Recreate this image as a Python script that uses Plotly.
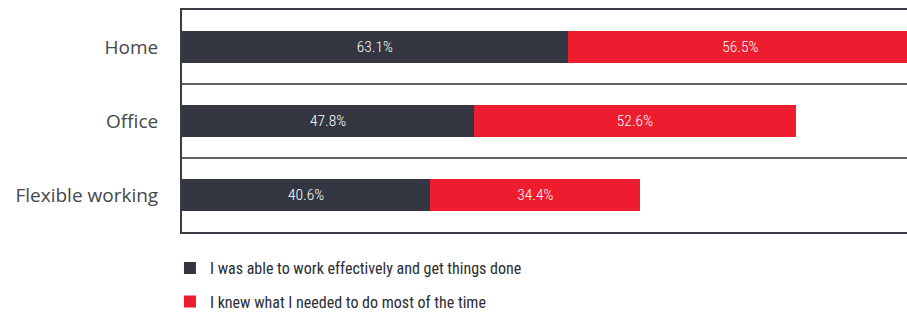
import plotly.graph_objects as go

categories = ["Home", "Office", "Flexible working"]
effective = [63.1, 47.8, 40.6]
knew_needed = [56.5, 52.6, 34.4]
series_names = ["I was able to work effectively and get things done",
                "I knew what I needed to do most of the time"]

DARK = "#343741"
RED = "#ed1c2e"
NARROW = "Roboto Condensed, DejaVu Sans Condensed, sans-serif"

fig = go.Figure()
fig.add_trace(go.Bar(
    y=categories, x=effective, orientation="h", name=series_names[0],
    marker=dict(color=DARK, line=dict(width=0)), width=0.44,
    text=[f"{v:.1f}%" for v in effective], textposition="inside",
    insidetextanchor="middle",
    textfont=dict(color="white", size=15.5, family=NARROW, weight=300),
    legend="legend",
))
fig.add_trace(go.Bar(
    y=categories, x=knew_needed, orientation="h", name=series_names[1],
    marker=dict(color=RED, line=dict(width=0)), width=0.44,
    text=[f"{v:.1f}%" for v in knew_needed], textposition="inside",
    insidetextanchor="middle",
    textfont=dict(color="white", size=15.5, family=NARROW, weight=300),
    legend="legend2",
))

legend_font = dict(family=NARROW, size=16, color="#2b2d33", weight=400)

fig.update_layout(
    barmode="stack",
    width=907, height=312,
    margin=dict(l=182, r=0, t=10, b=80, autoexpand=False),
    paper_bgcolor="white", plot_bgcolor="white",
    showlegend=True,
    legend=dict(x=-0.0166, xanchor="left", y=-0.163, yanchor="middle",
                font=legend_font, bgcolor="rgba(0,0,0,0)"),
    legend2=dict(x=-0.0166, xanchor="left", y=-0.314, yanchor="middle",
                 font=legend_font, bgcolor="rgba(0,0,0,0)"),
    xaxis=dict(range=[0, 118.6], showgrid=False, zeroline=False, showticklabels=False,
               showline=True, linecolor="#3a3d45", linewidth=2, mirror=True, ticks="",
               automargin=False),
    yaxis=dict(autorange="reversed", type="category", showgrid=True, gridcolor="#5f6268",
               gridwidth=1.5, tickson="boundaries", ticks="", showline=True,
               linecolor="#3a3d45", linewidth=2, ticklabelstandoff=18, automargin=False,
               tickfont=dict(family="Open Sans, sans-serif", size=19, color="#45474d")),
)

fig.write_html(
    "out.html",
    config={"displayModeBar": False},
    post_script="document.body.style.margin='0';document.body.style.overflow='hidden';",
)
